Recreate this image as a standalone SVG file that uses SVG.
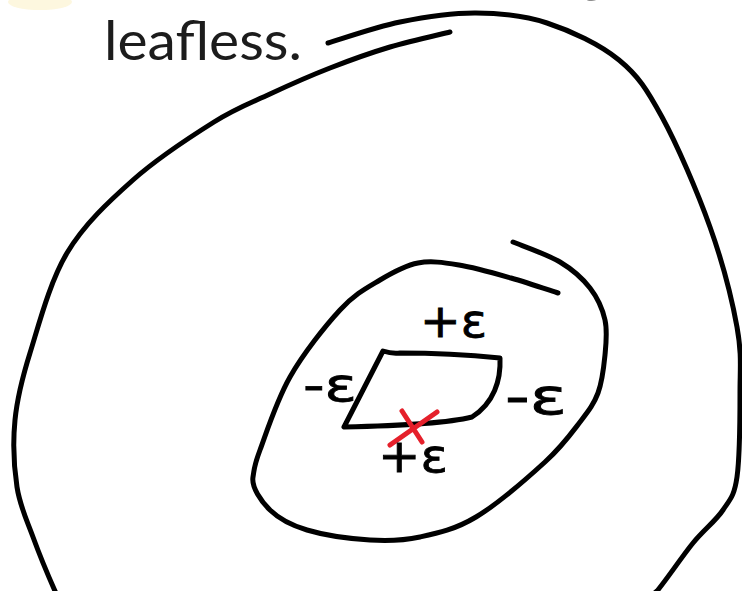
<svg xmlns="http://www.w3.org/2000/svg" width="742" height="591" viewBox="0 0 742 591">
<style>
.ink{fill:none;stroke:#000;stroke-width:5;stroke-linecap:round;stroke-linejoin:round}
.red{fill:none;stroke:#e5202b;stroke-width:5;stroke-linecap:round}
.lbl{font-family:"DejaVu Sans",sans-serif;fill:#000;stroke:#000;stroke-width:0.8}
.title{font-family:Lato,"Open Sans",sans-serif;fill:#1c1c1c}
</style>
<rect width="742" height="591" fill="#fff"/>
<ellipse cx="40" cy="2" rx="32" ry="8" fill="#fbf0c0" opacity="0.5"/>
<g id="title">
<text class="title" x="578" y="-9" font-size="55">g</text>
<text class="title" x="104" y="60" font-size="55" textLength="198" lengthAdjust="spacingAndGlyphs">leafless.</text>
</g>
<g id="outer">
<path class="ink" d="M328,43 C340,39.5 375.3,27 400,22 C424.7,17 451.5,12.8 476,13 C500.5,13.2 523.2,15.2 547,23 C570.8,30.8 599.8,44.3 619,60 C638.2,75.7 646.8,89.2 662,117 C677.2,144.8 697.5,192 710,227 C722.5,262 732,299.3 737,327 C742,354.7 740,368 740,393 C740,418 739.8,457.5 737,477 C734.2,496.5 730.3,499 723,510 C715.7,521 704,529.5 693,543 C682,556.5 665.8,580.7 657,591 L640,605"/>
<path class="ink" d="M450,32 C440,34.5 410,41 390,47 C370,53 350,60.2 330,68 C310,75.8 289.3,85 270,94 C250.7,103 236.8,107.7 214,122 C191.2,136.3 157.5,158.2 133,180 C108.5,201.8 84.2,224.2 67,253 C49.8,281.8 38.7,325.2 30,353 C21.3,380.8 17.2,397.7 15,420 C12.8,442.3 14,467.5 17,487 C20,506.5 26.7,519.7 33,537 C39.3,554.3 50.2,580.2 55,591 L62,602"/>
</g>
<g id="inner">
<path class="ink" d="M513,242 C520.8,245.3 547.2,254.3 560,262 C572.8,269.7 582.5,278.3 590,288 C597.5,297.7 602.5,308.8 605,320 C607.5,331.2 606.2,342.8 605,355 C603.8,367.2 602.2,381.8 598,393 C593.8,404.2 588.8,410.5 580,422 C571.2,433.5 562.3,446.2 545,462 C527.7,477.8 496.8,504.5 476,517 C455.2,529.5 437.7,533.2 420,537 C402.3,540.8 388.8,541.2 370,540 C351.2,538.8 323.7,535 307,530 C290.3,525 279,518.8 270,510 C261,501.2 251.3,487 253,477 C254.7,467 253.8,466.7 260,450 C266.2,433.3 276.7,400.3 290,377 C303.3,353.7 325,326.2 340,310 C355,293.8 367,287.8 380,280 C393,272.2 404.8,265.5 418,263 C431.2,260.5 443.5,262.5 459,265 C474.5,267.5 494.5,273.3 511,278 C527.5,282.7 550.2,290.5 558,293"/>
</g>
<g id="square">
<path class="ink" d="M344,427 L383,351 Q392,354 400,353 Q450,353 500,358 C501,380 494,403 472,417 Q440,425 344,427"/>
</g>
<g id="mark">
<path class="red" d="M402,411 L422,442 M437,412 L390,445"/>
</g>
<g id="labels">
<text class="lbl" x="420" y="337" font-size="46" textLength="67" lengthAdjust="spacingAndGlyphs">+ε</text>
<text class="lbl" x="303" y="401" font-size="46" textLength="54" lengthAdjust="spacingAndGlyphs">-ε</text>
<text class="lbl" x="505" y="414" font-size="50" textLength="62" lengthAdjust="spacingAndGlyphs">-ε</text>
<text class="lbl" x="378" y="472" font-size="46" textLength="70" lengthAdjust="spacingAndGlyphs">+ε</text>
</g>
</svg>
